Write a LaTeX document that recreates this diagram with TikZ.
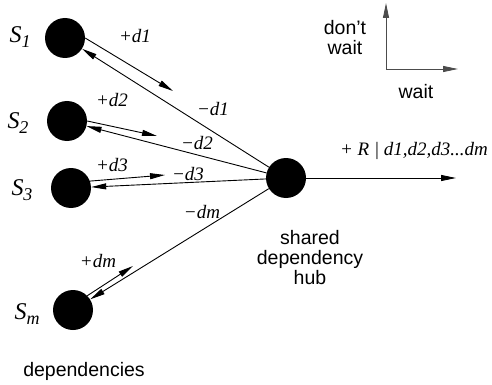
\documentclass[tikz,border=0pt]{standalone}
\usepackage{fontspec}
\setmainfont{Liberation Serif}
\setsansfont{Liberation Sans}
\usetikzlibrary{arrows.meta}

\tikzset{
  dep/.style={circle, fill=black, minimum size=40pt, inner sep=0pt},
  arr/.style={-{Triangle[length=15pt,width=6pt]}, line width=0.9pt},
  ax/.style={arr, draw=black!70},
  lbl/.style={inner sep=0pt, font=\fontsize{19}{20}\selectfont\itshape},
  sname/.style={inner sep=0pt, font=\fontsize{24}{25}\selectfont\itshape},
  txt/.style={inner sep=0pt, align=center, font=\fontsize{19.5}{20}\selectfont\sffamily},
}
\newcommand{\subs}[2]{#1\raisebox{-0.5ex}{\fontsize{18}{18}\selectfont #2}}

\begin{document}
\begin{tikzpicture}[x=1pt, y=-1pt]
  \useasboundingbox (0,0) rectangle (492,385);

  % Dependencies and hub
  \node[dep] (s1) at (65,38) {};
  \node[dep] (s2) at (67,121) {};
  \node[dep] (s3) at (71,188) {};
  \node[dep] (sm) at (73,310) {};
  \node[dep] (hub) at (286,178) {};

  % Free ends
  \coordinate (e1) at (173,91);
  \coordinate (e2) at (157,136);
  \coordinate (e3) at (165,175);
  \coordinate (em) at (133,266);
  \coordinate (out) at (456,178);

  % Requests and replies
  \draw[arr] (s1.east) -- (e1);
  \draw[arr] (hub) -- (s1);
  \draw[arr] (s2.east) -- (e2);
  \draw[arr] (hub) -- (s2);
  \draw[arr] (s3.20) -- (e3);
  \draw[arr] (hub) -- (s3);
  \draw[arr] (sm.45) -- (em);
  \draw[arr] (hub) -- (sm);
  \draw[arr] (hub.east) -- (out);

  % Axes
  \coordinate (origin) at (386,69);
  \coordinate (up) at (386,3);
  \coordinate (right) at (458,69);
  \draw[ax] (origin) -- (up);
  \draw[ax] (origin) -- (right);

  % Labels
  \node[sname] (l1) at (20,37) {\subs{S}{1}};
  \node[sname] (l2) at (18,123) {\subs{S}{2}};
  \node[sname] (l3) at (22,190) {\subs{S}{3}};
  \node[sname] (lm) at (27,314) {\subs{S}{m}};

  \node[lbl] (p1) at (135,36) {+d1};
  \node[lbl] (m1) at (213,109) {−d1};
  \node[lbl] (p2) at (112,100) {+d2};
  \node[lbl] (m2) at (197,143) {−d2};
  \node[lbl] (p3) at (112,165) {+d3};
  \node[lbl] (m3) at (188,174) {−d3};
  \node[lbl] (pm) at (98,261) {+dm};
  \node[lbl] (mm) at (202,212) {−dm};
  \node[lbl] (res) at (414,151) {+ R | d1,d2,d3...dm};

  \node[txt] (hubtxt) at (310,258) {shared\\dependency\\hub};
  \node[txt] (deptxt) at (84,371) {dependencies};
  \node[txt] (dw) at (345,38) {don’t\\wait};
  \node[txt] (w) at (416,92) {wait};
\end{tikzpicture}
\end{document}
